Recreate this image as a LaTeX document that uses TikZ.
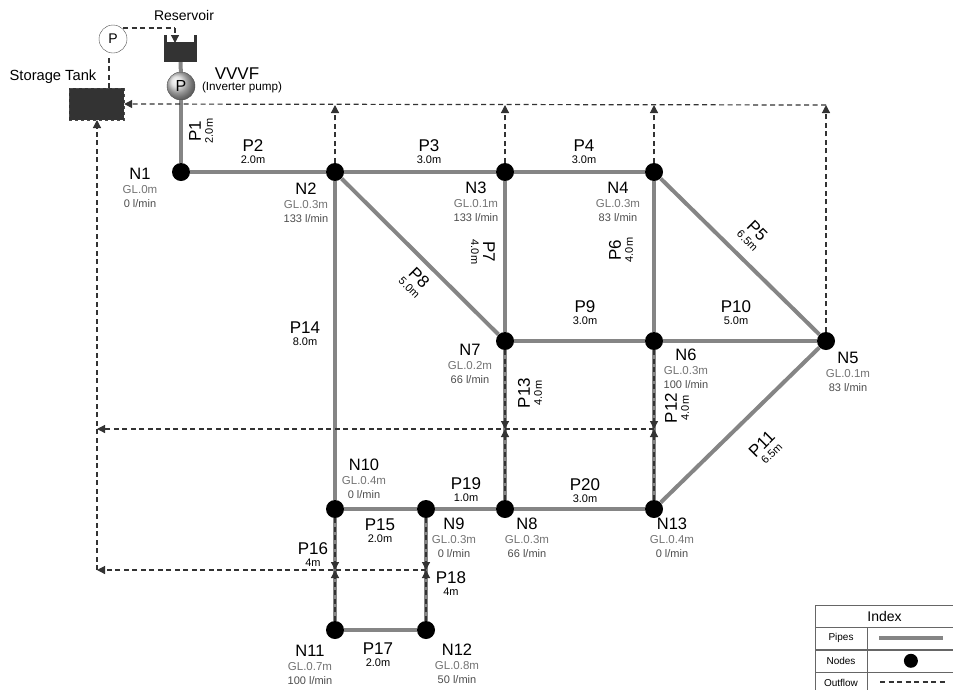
\documentclass[tikz,border=0pt]{standalone}
\usepackage{fontspec}
\setmainfont{Liberation Sans}
\usetikzlibrary{arrows.meta,positioning}
\definecolor{pipegray}{HTML}{858585}
\definecolor{darktank}{HTML}{333333}
\newcommand{\nodetext}[3]{{\fontsize{16.5}{16}\selectfont #1}\\[0pt]{\color{black!55}\fontsize{11.5}{14}\selectfont #2}\\{\color{black!70}#3}}
\newcommand{\pipetext}[2]{{\fontsize{17}{14}\selectfont #1}\\[-2pt]{\fontsize{11}{11}\selectfont #2}}
\tikzset{
  junction/.style = {circle, fill=black, inner sep=0pt, minimum size=18pt},
  pipe/.style = {draw=pipegray, line width=4pt},
  outflow/.style = {draw=black!80, line width=1.2pt, dash pattern=on 5pt off 3.5pt},
  arrow/.style = {outflow, -{Triangle[length=8pt,width=8pt]}},
  nlabel/.style = {align=center, inner sep=0pt, font=\fontsize{11}{14}\selectfont},
  plabel/.style = {align=center, inner sep=0pt, font=\fontsize{11}{14}\selectfont},
  pumpbox/.style = {circle, draw=black!70, minimum size=28pt, inner sep=0pt, font=\fontsize{14}{14}\selectfont},
  tag/.style = {inner sep=0pt, font=\fontsize{14}{14}\selectfont},
  cellname/.style = {draw=black!60, minimum width=52pt, minimum height=22pt, inner sep=0pt, font=\fontsize{10}{10}\selectfont},
  cellmark/.style = {draw=black!60, minimum width=87pt, minimum height=22pt, inner sep=0pt}
}
\begin{document}
\begin{tikzpicture}[x=1pt,y=-1pt]
  \useasboundingbox (0,0) rectangle (953,689);
  % tanks
  \node[draw=black!70, dashed, fill=darktank, minimum width=55pt, minimum height=32pt, inner sep=0pt] (tank) at (96.5,104) {};
  \node[fill=darktank, minimum width=33pt, minimum height=20pt, inner sep=0pt] (res) at (180.5,52) {};
  \node[pumpbox, fill=white] (pump2) at (113,39) {P};
  \node[pumpbox, ball color=black!15, draw=black!70, font=\fontsize{16}{16}\selectfont] (pump1) at (181,86) {P};
  % junctions
  \coordinate (top2) at (335,105);
  \coordinate (top3) at (505,105);
  \coordinate (top4) at (654,105);
  \coordinate (top5) at (826,105);
  \node[junction] (n1) at (181,172) {};
  \node[junction] (n2) at (335,172) {};
  \node[junction] (n3) at (505,172) {};
  \node[junction] (n4) at (654,172) {};
  \node[junction] (n5) at (826,341) {};
  \node[junction] (n6) at (654,341) {};
  \node[junction] (n7) at (505,341) {};
  \node[junction] (n8) at (505,509) {};
  \node[junction] (n9) at (426,509) {};
  \node[junction] (n10) at (335,509) {};
  \node[junction] (n11) at (335,630) {};
  \node[junction] (n12) at (426,630) {};
  \node[junction] (n13) at (654,509) {};
  % pipes
  \draw[pipe] (res) -- (pump1);
  \draw[pipe] (pump1) -- (n1);
  \draw[pipe] (n1) -- (n2);
  \draw[pipe] (n2) -- (n3);
  \draw[pipe] (n3) -- (n4);
  \draw[pipe] (n4) -- (n5);
  \draw[pipe] (n4) -- (n6);
  \draw[pipe] (n3) -- (n7);
  \draw[pipe] (n2) -- (n7);
  \draw[pipe] (n7) -- (n6);
  \draw[pipe] (n6) -- (n5);
  \draw[pipe] (n5) -- (n13);
  \draw[pipe] (n6) -- (n13);
  \draw[pipe] (n7) -- (n8);
  \draw[pipe] (n2) -- (n10);
  \draw[pipe] (n10) -- (n9);
  \draw[pipe] (n9) -- (n8);
  \draw[pipe] (n8) -- (n13);
  \draw[pipe] (n10) -- (n11);
  \draw[pipe] (n9) -- (n12);
  \draw[pipe] (n11) -- (n12);
  % reservoir walls
  \coordinate (resnw) at (165.5,35);
  \coordinate (resne) at (195.5,35);
  \draw[line width=3pt, draw=darktank] (resnw) -- (res.north west -| resnw);
  \draw[line width=3pt, draw=darktank] (resne) -- (res.north east -| resne);
  % outflow
  \coordinate (midm) at (505,429);
  \coordinate (midr) at (654,429);
  \coordinate (midl) at (97,429);
  \coordinate (lowr) at (426,570);
  \coordinate (lowm) at (335,570);
  \coordinate (lowl) at (97,570);
  \coordinate (tanks) at (97,120);
  \coordinate (tankn) at (109,88);
  \coordinate (pumpn) at (109,55);
  \coordinate (pumpt) at (123,28);
  \coordinate (rest) at (175,28);
  \coordinate (resa) at (175,43);
  \draw[arrow] (top5) -- (tank.east);
  \draw[arrow] (n2) -- (top2);
  \draw[arrow] (n3) -- (top3);
  \draw[arrow] (n4) -- (top4);
  \draw[arrow] (n5) -- (top5);
  \draw[arrow] (n7) -- (midm);
  \draw[arrow] (n8) -- (midm);
  \draw[arrow] (n6) -- (midr);
  \draw[arrow] (n13) -- (midr);
  \draw[arrow] (midr) -- (midl);
  \draw[arrow] (n10) -- (lowm);
  \draw[arrow] (n11) -- (lowm);
  \draw[arrow] (n9) -- (lowr);
  \draw[arrow] (n12) -- (lowr);
  \draw[arrow] (lowr) -- (lowl);
  \draw[arrow] (lowl) -- (tanks);
  \draw[outflow] (tankn) -- (pumpn);
  \draw[outflow] (pumpt) -- (rest);
  \draw[arrow] (rest) -- (resa);
  % names
  \node[tag] (restag) at (184,15) {Reservoir};
  \node[tag, font=\fontsize{14.7}{15}\selectfont] (tanktag) at (53,77) {Storage Tank};
  \node[tag, font=\fontsize{17}{17}\selectfont] (vvvf) at (237,74) {VVVF};
  \node[tag, font=\fontsize{11.7}{12}\selectfont] (inverter) at (242,87) {(Inverter pump)};
  % node labels
  \node[nlabel] (l1) at (140,188) {\nodetext{N1}{GL.0m}{0 l/min}};
  \node[nlabel] (l2) at (306,203) {\nodetext{N2}{GL.0.3m}{133 l/min}};
  \node[nlabel] (l3) at (476,202) {\nodetext{N3}{GL.0.1m}{133 l/min}};
  \node[nlabel] (l4) at (618,202) {\nodetext{N4}{GL.0.3m}{83 l/min}};
  \node[nlabel] (l5) at (848,372) {\nodetext{N5}{GL.0.1m}{83 l/min}};
  \node[nlabel] (l6) at (686,369) {\nodetext{N6}{GL.0.3m}{100 l/min}};
  \node[nlabel] (l7) at (470,364) {\nodetext{N7}{GL.0.2m}{66 l/min}};
  \node[nlabel] (l8) at (527,538) {\nodetext{N8}{GL.0.3m}{66 l/min}};
  \node[nlabel] (l9) at (454,538) {\nodetext{N9}{GL.0.3m}{0 l/min}};
  \node[nlabel] (l10) at (364,479) {\nodetext{N10}{GL.0.4m}{0 l/min}};
  \node[nlabel] (l11) at (310,665) {\nodetext{N11}{GL.0.7m}{100 l/min}};
  \node[nlabel] (l12) at (457,664) {\nodetext{N12}{GL.0.8m}{50 l/min}};
  \node[nlabel] (l13) at (672,538) {\nodetext{N13}{GL.0.4m}{0 l/min}};
  % pipe labels
  \node[plabel, rotate=90] (p1) at (201,131) {\pipetext{P1}{2.0m}};
  \node[plabel] (p2) at (253,152) {\pipetext{P2}{2.0m}};
  \node[plabel] (p3) at (429,152) {\pipetext{P3}{3.0m}};
  \node[plabel] (p4) at (584,152) {\pipetext{P4}{3.0m}};
  \node[plabel, rotate=-45] (p5) at (753,235) {\pipetext{P5}{6.5m}};
  \node[plabel, rotate=90] (p6) at (621,250) {\pipetext{P6}{4.0m}};
  \node[plabel, rotate=-90] (p7) at (483,252) {\pipetext{P7}{4.0m}};
  \node[plabel, rotate=-45] (p8) at (415,282) {\pipetext{P8}{5.0m}};
  \node[plabel] (p9) at (585,313) {\pipetext{P9}{3.0m}};
  \node[plabel] (p10) at (736,313) {\pipetext{P10}{5.0m}};
  \node[plabel, rotate=45] (p11) at (766,448) {\pipetext{P11}{6.5m}};
  \node[plabel, rotate=90] (p12) at (677,408) {\pipetext{P12}{4.0m}};
  \node[plabel, rotate=90] (p13) at (530,393) {\pipetext{P13}{4.0m}};
  \node[plabel] (p14) at (305,334) {\pipetext{P14}{8.0m}};
  \node[plabel] (p15) at (380,531) {\pipetext{P15}{2.0m}};
  \node[plabel] (p16) at (313,555) {\pipetext{P16}{4m}};
  \node[plabel] (p17) at (378,655) {\pipetext{P17}{2.0m}};
  \node[plabel] (p18) at (451,584) {\pipetext{P18}{4m}};
  \node[plabel] (p19) at (466,490) {\pipetext{P19}{1.0m}};
  \node[plabel] (p20) at (585,491) {\pipetext{P20}{3.0m}};
  % index
  \node[cellname, minimum width=139pt, font=\fontsize{14}{14}\selectfont] (index) at (884.5,616) {Index};
  \node[cellname, anchor=north west] (c1) at (index.south west) {Pipes};
  \node[cellmark, right=0pt of c1] (d1) {};
  \node[cellname, below=0pt of c1] (c2) {Nodes};
  \node[cellmark, right=0pt of c2] (d2) {};
  \node[cellname, below=0pt of c2] (c3) {Outflow};
  \node[cellmark, right=0pt of c3] (d3) {};
  \coordinate (pipea) at (879,638);
  \coordinate (pipeb) at (943,638);
  \draw[pipe] (pipea) -- (pipeb);
  \node[junction, minimum size=14pt] (dot) at (d2) {};
  \coordinate (outa) at (880,682);
  \coordinate (outb) at (945,682);
  \draw[outflow] (outa) -- (outb);
\end{tikzpicture}
\end{document}
